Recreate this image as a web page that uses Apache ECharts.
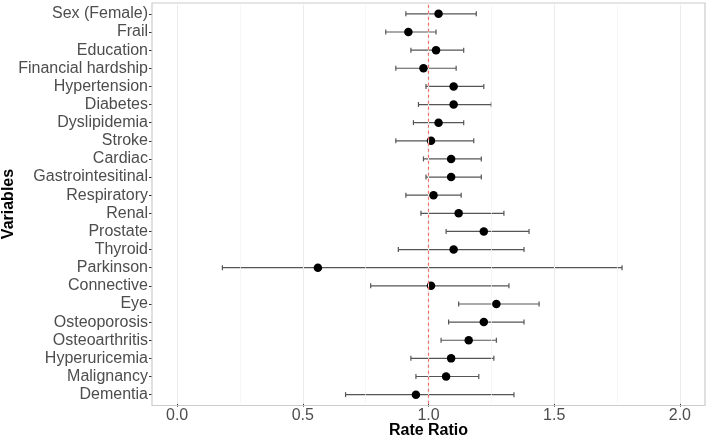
<!DOCTYPE html>
<html><head><meta charset="utf-8">
<script src="https://cdn.jsdelivr.net/npm/echarts@6/dist/echarts.min.js"></script>
<style>html,body{margin:0;padding:0;background:#fff}#c{width:709px;height:440px}</style>
</head><body><div id="c"></div>
<script>
const categories = ["Sex (Female)","Frail","Education","Financial hardship","Hypertension","Diabetes","Dyslipidemia","Stroke","Cardiac","Gastrointesitinal","Respiratory","Renal","Prostate","Thyroid","Parkinson","Connective","Eye","Osteoporosis","Osteoarthritis","Hyperuricemia","Malignancy","Dementia"];
const estimates = [1.04,0.92,1.03,0.98,1.10,1.10,1.04,1.01,1.09,1.09,1.02,1.12,1.22,1.10,0.56,1.01,1.27,1.22,1.16,1.09,1.07,0.95];
const lower = [0.91,0.83,0.93,0.87,0.99,0.96,0.94,0.87,0.98,0.99,0.91,0.97,1.07,0.88,0.18,0.77,1.12,1.08,1.05,0.93,0.95,0.67];
const upper = [1.19,1.03,1.14,1.11,1.22,1.25,1.14,1.18,1.21,1.21,1.13,1.30,1.40,1.38,1.77,1.32,1.44,1.38,1.27,1.26,1.20,1.34];
const xTicks = [0, 0.5, 1, 1.5, 2];
const minorTicks = [0.25, 0.75, 1.25, 1.75];
const refValue = 1;
const xTitle = "Rate Ratio";
const yTitle = "Variables";

const FONT = "'Liberation Sans', Arial, sans-serif";
const chart = echarts.init(document.getElementById('c'), null, {renderer: 'canvas'});

const barData = categories.map((c, i) => [lower[i], upper[i], i]);
const pointData = categories.map((c, i) => [estimates[i], i]);

chart.setOption({
  animation: false,
  grid: {left: 152, right: 4, top: 4.8, bottom: 36.3, containLabel: false},
  xAxis: {
    type: 'value', min: -0.1, max: 2.1,
    axisLine: {show: false, onZero: false},
    axisTick: {show: true, customValues: xTicks, length: 3, lineStyle: {color: '#333'}},
    axisLabel: {customValues: xTicks, fontSize: 16, color: '#4d4d4d', fontFamily: FONT, margin: 4,
      formatter: v => v.toFixed(1)},
    splitLine: {show: false}
  },
  yAxis: {
    type: 'category', data: categories, inverse: true,
    axisLine: {show: false, onZero: false},
    axisTick: {show: true, alignWithLabel: true, length: 3, lineStyle: {color: '#333'}},
    axisLabel: {fontSize: 16, color: '#4d4d4d', fontFamily: FONT, margin: 4, interval: 0},
    splitLine: {show: false}
  },
  graphic: [
    {type: 'rect', z: 100, silent: true, shape: {x: 152, y: 3, width: 553, height: 402.5},
      style: {fill: 'none', stroke: '#cccccc', lineWidth: 1.2}},
    {type: 'text', x: 428.5, y: 431, style: {text: xTitle, font: 'bold 16px ' + FONT, fill: '#000', align: 'center', verticalAlign: 'middle'}},
    {type: 'text', x: 9, y: 204, rotation: Math.PI / 2, style: {text: yTitle, font: 'bold 16px ' + FONT, fill: '#000', align: 'center', verticalAlign: 'middle'}}
  ],
  series: [
    {
      type: 'line', data: [], z: 0, silent: true,
      markLine: {
        silent: true, symbol: 'none', label: {show: false}, animation: false,
        data: xTicks.map(v => ({xAxis: v, lineStyle: {color: '#ebebeb', width: 1.1, type: 'solid'}}))
          .concat(minorTicks.map(v => ({xAxis: v, lineStyle: {color: '#f2f2f2', width: 0.7, type: 'solid'}})))
      }
    },
    {
      type: 'line', data: [], z: 1, silent: true,
      markLine: {
        silent: true, symbol: 'none', label: {show: false}, animation: false,
        data: [{xAxis: refValue, lineStyle: {color: '#f07068', width: 1.2, type: [3, 3]}}]
      }
    },
    {
      type: 'custom', z: 2, silent: true,
      encode: {x: [0, 1], y: 2},
      data: barData,
      renderItem: function (params, api) {
        const lo = api.coord([api.value(0), api.value(2)]);
        const hi = api.coord([api.value(1), api.value(2)]);
        const h = 2.5;
        const st = {stroke: '#555', lineWidth: 1.2};
        return {type: 'group', children: [
          {type: 'line', shape: {x1: lo[0], y1: lo[1], x2: hi[0], y2: hi[1]}, style: st},
          {type: 'line', shape: {x1: lo[0], y1: lo[1] - h, x2: lo[0], y2: lo[1] + h}, style: st},
          {type: 'line', shape: {x1: hi[0], y1: hi[1] - h, x2: hi[0], y2: hi[1] + h}, style: st}
        ]};
      }
    },
    {
      type: 'scatter', z: 3, silent: true, data: pointData,
      symbol: 'circle', symbolSize: 8.5, itemStyle: {color: '#000', opacity: 1}
    }
  ]
});
</script>
</body></html>
